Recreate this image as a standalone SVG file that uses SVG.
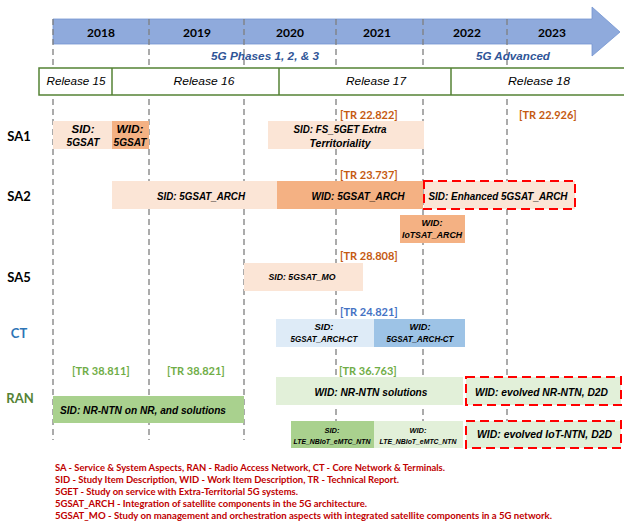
<svg xmlns="http://www.w3.org/2000/svg" width="624" height="524" viewBox="0 0 624 524">
<style>
text{font-family:Lato,"Liberation Sans",sans-serif;}
.it{font-family:"Liberation Sans",Arial,sans-serif;}
.yr{font-size:12px;font-weight:bold;fill:#000;text-anchor:middle;dominant-baseline:central;}
.ph{font-size:11px;font-weight:bold;font-style:italic;fill:#2f5597;text-anchor:middle;dominant-baseline:central;}
.rel{font-size:11.5px;font-style:italic;fill:#000;text-anchor:middle;dominant-baseline:central;}
.row{font-size:13px;font-weight:bold;fill:#000;text-anchor:middle;dominant-baseline:central;}
.bt{font-size:10.5px;font-weight:bold;font-style:italic;fill:#000;text-anchor:middle;dominant-baseline:central;}
.bs{font-size:9px;font-weight:bold;font-style:italic;fill:#000;text-anchor:middle;dominant-baseline:central;}
.bxs{font-size:6.5px;font-weight:bold;font-style:italic;fill:#000;text-anchor:middle;dominant-baseline:central;}
.tro{font-size:11px;font-weight:bold;fill:#c55a11;dominant-baseline:central;}
.trb{font-size:11px;font-weight:bold;fill:#4472c4;dominant-baseline:central;}
.trg{font-size:11px;font-weight:bold;fill:#70ad47;dominant-baseline:central;}
.lg{font-size:9px;font-weight:bold;fill:#c00000;dominant-baseline:central;}
.grid{stroke:#7f7f7f;stroke-width:1.3;stroke-dasharray:6 4;fill:none;}
.sidO{fill:#fbe5d6;}
.widO{fill:#f4b183;}
.sidB{fill:#deebf7;}
.widB{fill:#9dc3e6;}
.sidG{fill:#a9d18e;}
.widG{fill:#e2f0d9;}
.red{stroke:#ff0000;stroke-width:2;stroke-dasharray:9 5;}
.relbox{fill:#fff;stroke:#548235;stroke-width:1.5;}
</style>

<!-- timeline arrow -->
<g id="timeline">
<path d="M53,19 H592 V7 L620,32 L592,56 V44 H53 Z" fill="#8faadc" stroke="#7394d0" stroke-width="0.8"/>
</g>

<!-- grid lines -->
<g id="grid">
<line class="grid" x1="53" y1="19" x2="53" y2="440"/>
<line class="grid" x1="149" y1="19" x2="149" y2="440"/>
<line class="grid" x1="244" y1="19" x2="244" y2="440"/>
<line class="grid" x1="336" y1="19" x2="336" y2="440"/>
<line class="grid" x1="423" y1="19" x2="423" y2="440"/>
<line class="grid" x1="507" y1="19" x2="507" y2="440"/>
</g>

<g id="years">
<text class="yr" x="101" y="32">2018</text>
<text class="yr" x="197" y="32">2019</text>
<text class="yr" x="290" y="32">2020</text>
<text class="yr" x="377" y="32">2021</text>
<text class="yr" x="467" y="32">2022</text>
<text class="yr" x="552" y="32">2023</text>
<text class="ph it" x="265" y="56" textLength="108" lengthAdjust="spacingAndGlyphs">5G Phases 1, 2, &amp; 3</text>
<text class="ph it" x="513" y="56" textLength="74" lengthAdjust="spacingAndGlyphs">5G Advanced</text>
</g>

<g id="releases">
<rect class="relbox" x="39" y="68" width="600" height="27"/>
<line x1="112" y1="68" x2="112" y2="95" stroke="#548235" stroke-width="1.5"/>
<line x1="279" y1="68" x2="279" y2="95" stroke="#548235" stroke-width="1.5"/>
<line x1="451" y1="68" x2="451" y2="95" stroke="#548235" stroke-width="1.5"/>
<text class="rel it" x="76" y="81" textLength="59" lengthAdjust="spacingAndGlyphs">Release 15</text>
<text class="rel it" x="204" y="81" textLength="61" lengthAdjust="spacingAndGlyphs">Release 16</text>
<text class="rel it" x="376" y="81" textLength="60" lengthAdjust="spacingAndGlyphs">Release 17</text>
<text class="rel it" x="539" y="81" textLength="62" lengthAdjust="spacingAndGlyphs">Release 18</text>
</g>

<g id="row-labels">
<text class="row" x="19" y="136">SA1</text>
<text class="row" x="19" y="196">SA2</text>
<text class="row" x="19" y="277">SA5</text>
<text class="row" x="19" y="333" style="fill:#2e75b6">CT</text>
<text class="row" x="20" y="398" style="fill:#548235">RAN</text>
</g>

<g id="tr-labels">
<text class="tro" x="340" y="114">[TR 22.822]</text>
<text class="tro" x="519" y="114">[TR 22.926]</text>
<text class="tro" x="340" y="174">[TR 23.737]</text>
<text class="tro" x="340" y="255">[TR 28.808]</text>
<text class="trb" x="340" y="311">[TR 24.821]</text>
<text class="trg" x="72" y="370">[TR 38.811]</text>
<text class="trg" x="167" y="370">[TR 38.821]</text>
<text class="trg" x="339" y="370">[TR 36.763]</text>
</g>

<!-- SA1 -->
<g id="sa1-sid-5gsat">
<rect class="sidO" x="53" y="121" width="59" height="28"/>
<text class="bt it" x="83" y="129" textLength="23" lengthAdjust="spacingAndGlyphs">SID:</text>
<text class="bt it" x="83" y="142" textLength="33" lengthAdjust="spacingAndGlyphs">5GSAT</text>
</g>
<g id="sa1-wid-5gsat">
<rect class="widO" x="112" y="121" width="37" height="28"/>
<text class="bt it" x="130" y="129" textLength="27" lengthAdjust="spacingAndGlyphs">WID:</text>
<text class="bt it" x="130" y="142" textLength="33" lengthAdjust="spacingAndGlyphs">5GSAT</text>
</g>
<g id="sa1-sid-fs5get">
<rect class="sidO" x="268" y="121" width="156" height="28"/>
<text class="bt it" x="340" y="129" textLength="93" lengthAdjust="spacingAndGlyphs">SID: FS_5GET Extra</text>
<text class="bt it" x="340" y="143" textLength="61" lengthAdjust="spacingAndGlyphs">Territoriality</text>
</g>

<!-- SA2 -->
<g id="sa2-sid-arch">
<rect class="sidO" x="112" y="181" width="165" height="28"/>
<text class="bt it" x="201" y="196" textLength="88" lengthAdjust="spacingAndGlyphs">SID: 5GSAT_ARCH</text>
</g>
<g id="sa2-wid-arch">
<rect class="widO" x="277" y="181" width="146" height="28"/>
<text class="bt it" x="358" y="196" textLength="93" lengthAdjust="spacingAndGlyphs">WID: 5GSAT_ARCH</text>
</g>
<g id="sa2-sid-enh">
<rect class="sidO red" x="424" y="181" width="151" height="28"/>
<text class="bt it" x="498" y="196" textLength="139" lengthAdjust="spacingAndGlyphs">SID: Enhanced 5GSAT_ARCH</text>
</g>
<g id="sa2-wid-iotsat">
<rect class="widO" x="400" y="215" width="65" height="28"/>
<text class="bs it" x="432" y="223" textLength="21" lengthAdjust="spacingAndGlyphs">WID:</text>
<text class="bs it" x="432" y="235" textLength="60" lengthAdjust="spacingAndGlyphs">IoTSAT_ARCH</text>
</g>

<!-- SA5 -->
<g id="sa5-sid-mo">
<rect class="sidO" x="244" y="263" width="119" height="28"/>
<text class="bs it" x="302" y="277" textLength="67" lengthAdjust="spacingAndGlyphs">SID: 5GSAT_MO</text>
</g>

<!-- CT -->
<g id="ct-sid">
<rect class="sidB" x="276" y="319" width="98" height="28"/>
<text class="bs it" x="324" y="327" textLength="19" lengthAdjust="spacingAndGlyphs">SID:</text>
<text class="bs it" x="324" y="339" textLength="67" lengthAdjust="spacingAndGlyphs">5GSAT_ARCH-CT</text>
</g>
<g id="ct-wid">
<rect class="widB" x="374" y="319" width="91" height="28"/>
<text class="bs it" x="420" y="327" textLength="21" lengthAdjust="spacingAndGlyphs">WID:</text>
<text class="bs it" x="420" y="339" textLength="67" lengthAdjust="spacingAndGlyphs">5GSAT_ARCH-CT</text>
</g>

<!-- RAN -->
<g id="ran-sid-nrntn">
<rect class="sidG" x="53" y="396" width="191" height="27"/>
<text class="bt it" x="60" y="410" style="text-anchor:start" textLength="166" lengthAdjust="spacingAndGlyphs">SID: NR-NTN on NR, and solutions</text>
</g>
<g id="ran-wid-nrntn">
<rect class="widG" x="276" y="377" width="187" height="28"/>
<text class="bt it" x="371" y="392" textLength="113" lengthAdjust="spacingAndGlyphs">WID: NR-NTN solutions</text>
</g>
<g id="ran-wid-evolved-nr">
<rect class="widG red" x="466" y="377" width="155" height="28"/>
<text class="bt it" x="475" y="392" style="text-anchor:start" textLength="133" lengthAdjust="spacingAndGlyphs">WID: evolved NR-NTN, D2D</text>
</g>
<g id="ran-sid-lte">
<rect class="sidG" x="291" y="421" width="83" height="27"/>
<text class="bxs it" x="332" y="430" textLength="15" lengthAdjust="spacingAndGlyphs">SID:</text>
<text class="bxs it" x="332" y="441" textLength="77" lengthAdjust="spacingAndGlyphs">LTE_NBIoT_eMTC_NTN</text>
</g>
<g id="ran-wid-lte">
<rect class="widG" x="374" y="421" width="89" height="27"/>
<text class="bxs it" x="418" y="430" textLength="17" lengthAdjust="spacingAndGlyphs">WID:</text>
<text class="bxs it" x="418" y="441" textLength="77" lengthAdjust="spacingAndGlyphs">LTE_NBIoT_eMTC_NTN</text>
</g>
<g id="ran-wid-evolved-iot">
<rect class="widG red" x="466" y="421" width="155" height="27"/>
<text class="bt it" x="477" y="434" style="text-anchor:start" textLength="135" lengthAdjust="spacingAndGlyphs">WID: evolved IoT-NTN, D2D</text>
</g>

<!-- legend -->
<g id="legend">
<text class="lg" x="55" y="467" textLength="390" lengthAdjust="spacingAndGlyphs">SA - Service &amp; System Aspects, RAN - Radio Access Network, CT - Core Network &amp; Terminals.</text>
<text class="lg" x="55" y="479" textLength="344" lengthAdjust="spacingAndGlyphs">SID - Study Item Description, WID - Work Item Description, TR - Technical Report.</text>
<text class="lg" x="55" y="491" textLength="243" lengthAdjust="spacingAndGlyphs">5GET - Study on service with Extra-Territorial 5G systems.</text>
<text class="lg" x="55" y="503" textLength="312" lengthAdjust="spacingAndGlyphs">5GSAT_ARCH - Integration of satellite components in the 5G architecture.</text>
<text class="lg" x="55" y="515" textLength="497" lengthAdjust="spacingAndGlyphs">5GSAT_MO - Study on management and orchestration aspects with integrated satellite components in a 5G network.</text>
</g>
</svg>
